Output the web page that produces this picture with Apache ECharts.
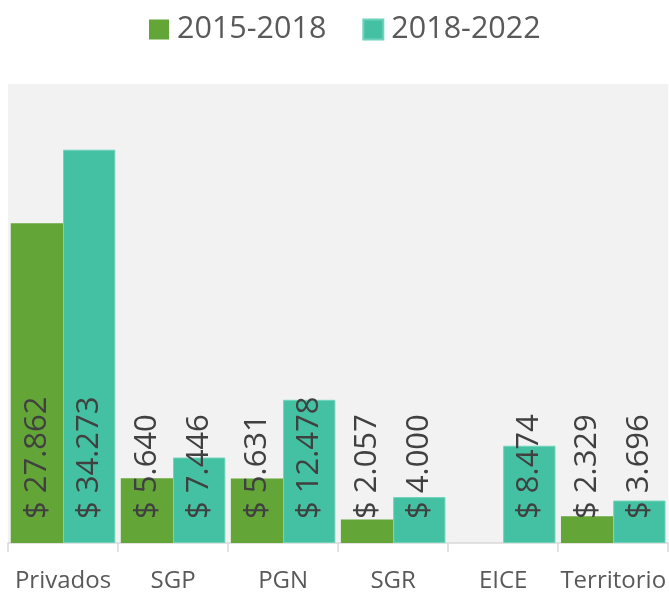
<!DOCTYPE html>
<html><head><meta charset="utf-8">
<script src="https://cdn.jsdelivr.net/npm/echarts@6/dist/echarts.min.js"></script>
<style>html,body{margin:0;padding:0;background:#fff}#c{width:669px;height:593px}</style>
</head><body><div id="c"></div>
<script>
const categories = ['Privados', 'SGP', 'PGN', 'SGR', 'EICE', 'Territorio'];
const series2015_2018 = [27.862, 5.640, 5.631, 2.057, null, 2.329];
const series2018_2022 = [34.273, 7.446, 12.478, 4.000, 8.474, 3.696];
const seriesNames = ['2015-2018', '2018-2022'];

const FONT = '"Open Sans", "Noto Sans", sans-serif';
const labelCfg = {
  show: true,
  position: 'insideBottom',
  rotate: 90,
  align: 'left',
  verticalAlign: 'middle',
  distance: 24,
  fontFamily: FONT,
  fontSize: 31,
  color: '#404040',
  formatter: p => p.value == null ? '' : '$ ' + p.value.toFixed(3)
};
const chart = echarts.init(document.getElementById('c'));
chart.setOption({
  animation: false,
  legend: {
    top: 9, left: 144,
    icon: 'rect', itemWidth: 20, itemHeight: 20, itemGap: 36,
    textStyle: {fontFamily: FONT, fontSize: 30.5, color: '#595959', padding: [0, 0, 0, 3]},
    data: seriesNames
  },
  grid: {left: 8, right: 0, top: 84, bottom: 49, show: true, backgroundColor: '#f2f2f2', borderWidth: 0},
  xAxis: {
    type: 'category', data: categories,
    axisLine: {lineStyle: {color: '#d9d9d9', width: 1.5}},
    axisTick: {show: true, length: 9, lineStyle: {color: '#d9d9d9', width: 1.5}},
    axisLabel: {fontFamily: FONT, fontSize: 24, color: '#595959', margin: 26, interval: 0}
  },
  yAxis: {type: 'value', min: 0, max: 40, show: false, splitLine: {show: false}},
  series: [
    {name: seriesNames[0], type: 'bar', data: series2015_2018, barGap: '0%', barCategoryGap: '5%',
     itemStyle: {color: '#63a537'}, label: labelCfg},
    {name: seriesNames[1], type: 'bar', data: series2018_2022,
     itemStyle: {color: '#44c1a3', borderColor: '#6fd3bb', borderWidth: 1}, label: labelCfg}
  ]
});
</script></body></html>
